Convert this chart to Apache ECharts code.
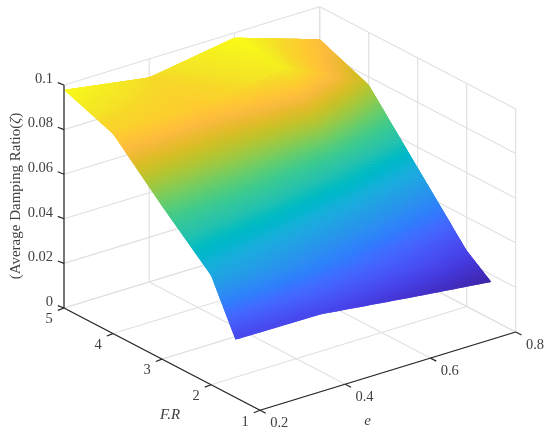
<!DOCTYPE html>
<html>
<head>
<meta charset="utf-8">
<style>html,body{margin:0;padding:0;background:#fff}#c{width:550px;height:434px}</style>
<script src="https://cdn.jsdelivr.net/npm/echarts@6/dist/echarts.min.js"></script>
</head>
<body>
<div id="c"></div>
<script>
// ---- data ----
const eValues = [0.2, 0.4, 0.6, 0.8];
const frValues = [5, 4, 3, 2, 1.5];
const zF5 = [0.0978, 0.0917, 0.0978, 0.0854];
const zF4 = [0.0895, 0.0880, 0.0950, 0.0764];
const zF3 = [0.0686, 0.0660, 0.0600, 0.0506];
const zF2 = [0.0490, 0.0420, 0.0340, 0.0250];
const zF15 = [0.0259, 0.0256, 0.0210, 0.0167];
const zRows = [zF5, zF4, zF3, zF2, zF15];
const eTicks = [0.2, 0.4, 0.6, 0.8];
const frTicks = [1, 2, 3, 4, 5];
const zTicks = [0, 0.02, 0.04, 0.06, 0.08, 0.1];
const zTickLabels = ['0', '0.02', '0.04', '0.06', '0.08', '0.1'];

// parula colour map
const parula = [[.2422,.1504,.6603],[.2504,.1650,.7076],[.2578,.1818,.7511],[.2647,.1978,.7952],[.2706,.2147,.8364],[.2751,.2342,.8710],[.2783,.2559,.8991],[.2803,.2782,.9221],[.2813,.3006,.9414],[.2810,.3228,.9579],[.2795,.3447,.9717],[.2760,.3667,.9829],[.2699,.3892,.9906],[.2602,.4123,.9952],[.2440,.4358,.9988],[.2206,.4603,.9973],[.1963,.4847,.9892],[.1834,.5074,.9798],[.1786,.5289,.9682],[.1764,.5499,.9520],[.1687,.5703,.9359],[.1540,.5902,.9218],[.1460,.6091,.9079],[.1380,.6276,.8973],[.1248,.6459,.8883],[.1113,.6635,.8763],[.0952,.6798,.8598],[.0689,.6948,.8394],[.0297,.7082,.8163],[.0036,.7203,.7917],[.0067,.7312,.7660],[.0433,.7411,.7394],[.0964,.7500,.7120],[.1408,.7584,.6842],[.1717,.7670,.6554],[.1938,.7758,.6251],[.2161,.7843,.5923],[.2470,.7918,.5567],[.2906,.7973,.5188],[.3406,.8008,.4789],[.3909,.8029,.4354],[.4456,.8024,.3909],[.5044,.7993,.3480],[.5616,.7942,.3045],[.6174,.7876,.2612],[.6720,.7793,.2227],[.7242,.7698,.1910],[.7738,.7598,.1646],[.8203,.7498,.1535],[.8634,.7406,.1596],[.9035,.7330,.1774],[.9393,.7288,.2100],[.9728,.7298,.2394],[.9956,.7434,.2371],[.9970,.7659,.2199],[.9952,.7861,.1999],[.9892,.8071,.1818],[.9786,.8303,.1755],[.9676,.8515,.1596],[.9610,.8890,.1537],[.9597,.9135,.1423],[.9628,.9373,.1265],[.9691,.9606,.1064],[.9769,.9839,.0805]];

// ---- view: oblique projection of the 3D box on the page plane ----
const eRange = [0.2, 0.8], frRange = [1, 5], zRange = [0, 0.1];
const view = {ox: 64, oy: 308, ux: 255.7, uy: -78.3, vx: 196, vy: 102.3, wy: -223};
function proj(e, f, z) {
  const u = (e - eRange[0]) / (eRange[1] - eRange[0]);
  const v = (frRange[1] - f) / (frRange[1] - frRange[0]);
  const w = (z - zRange[0]) / (zRange[1] - zRange[0]);
  return [view.ox + view.ux * u + view.vx * v, view.oy + view.uy * u + view.vy * v + view.wy * w];
}
const zAll = zRows.flat();
const cMin = Math.min.apply(null, zAll), cMax = Math.max.apply(null, zAll);
function colorOf(z) {
  const t = Math.max(0, Math.min(1, (z - cMin) / (cMax - cMin))) * (parula.length - 1);
  const i = Math.min(parula.length - 2, Math.floor(t)), f = t - i;
  const c = [0, 1, 2].map(k => Math.round(255 * (parula[i][k] * (1 - f) + parula[i + 1][k] * f)));
  return 'rgb(' + c.join(',') + ')';
}

const GRID = '#e0e0e0', AXIS = '#262626', TXT = '#404040', FONT = 'Liberation Serif';

function renderAll(params, api) {
  const P = (e, f, z) => api.coord(proj(e, f, z));
  const children = [];
  const line = (a, b, stroke, w) => children.push({type: 'line', silent: true,
    shape: {x1: a[0], y1: a[1], x2: b[0], y2: b[1]}, style: {stroke, lineWidth: w}});
  const [e0, e1] = eRange, [f0, f1] = frRange, [z0, z1] = zRange;

  // back walls + floor grid
  zTicks.forEach(z => {
    line(P(e0, f1, z), P(e1, f1, z), GRID, 1.1);
    line(P(e1, f1, z), P(e1, f0, z), GRID, 1.1);
  });
  eTicks.forEach(e => {
    line(P(e, f1, z0), P(e, f1, z1), GRID, 1.1);
    line(P(e, f0, z0), P(e, f1, z0), GRID, 1.1);
  });
  frTicks.forEach(f => {
    line(P(e1, f, z0), P(e1, f, z1), GRID, 1.1);
    line(P(e0, f, z0), P(e1, f, z0), GRID, 1.1);
  });

  // surface, painted back to front with overlapping tiles so no seams show
  const nE = eValues.length - 1, nF = frValues.length - 1, N = 30, OV = 1;
  const ptAt = (S, T) => {
    S = Math.max(0, Math.min(nE, S)); T = Math.max(0, Math.min(nF, T));
    const c = Math.min(nE - 1, Math.floor(S)), r = Math.min(nF - 1, Math.floor(T));
    const s = S - c, t = T - r;
    const e = eValues[c] + (eValues[c + 1] - eValues[c]) * s;
    const f = frValues[r] + (frValues[r + 1] - frValues[r]) * t;
    const z = zRows[r][c] * (1 - s) * (1 - t) + zRows[r][c + 1] * s * (1 - t) +
              zRows[r + 1][c] * (1 - s) * t + zRows[r + 1][c + 1] * s * t;
    return {p: P(e, f, z), z};
  };
  for (let i = 0; i < nF * N; i++) {
    for (let j = nE * N - 1; j >= 0; j--) {
      const sL = j / N, sR = (j + 1 + OV) / N, tT = (i - OV) / N, tB = (i + 1) / N;
      const mid = ptAt((j + 0.5) / N, (i + 0.5) / N);
      children.push({type: 'polygon', silent: true,
        shape: {points: [ptAt(sL, tT).p, ptAt(sR, tT).p, ptAt(sR, tB).p, ptAt(sL, tB).p]},
        style: {fill: colorOf(mid.z)}});
    }
  }

  // axes
  line(P(e0, f1, z0), P(e0, f1, z1), AXIS, 1.2);
  line(P(e0, f1, z0), P(e0, f0, z0), AXIS, 1.2);
  line(P(e0, f0, z0), P(e1, f0, z0), AXIS, 1.2);

  const label = (text, x, y, align) => children.push({type: 'text', silent: true,
    style: {text, x, y, fill: TXT, font: '14.5px "' + FONT + '"', align, verticalAlign: 'middle'}});

  zTicks.forEach((z, i) => {
    const a = P(e0, f1, z);
    line(a, [a[0] - 6.2, a[1] - 2.4], AXIS, 1.2);
    label(zTickLabels[i], a[0] - 11, a[1] - 6, 'right');
  });
  frTicks.forEach(f => {
    const a = P(e0, f, z0);
    line(a, [a[0] - 6.2, a[1] + 2.4], AXIS, 1.2);
    label(String(f), a[0] - 15, a[1] + 11.5, 'center');
  });
  eTicks.forEach(e => {
    const a = P(e, f0, z0);
    line(a, [a[0] + 5.8, a[1] + 3], AXIS, 1.2);
    label(e.toFixed(1), a[0] + 19.3, a[1] + 13, 'center');
  });

  // axis titles
  children.push({type: 'text', silent: true, style: {text: 'F.R', x: 170, y: 415, fill: TXT,
    font: 'italic 15px "' + FONT + '"', align: 'center', verticalAlign: 'middle'}});
  children.push({type: 'text', silent: true, style: {text: 'e', x: 367.5, y: 421, fill: TXT,
    font: 'italic 15px "' + FONT + '"', align: 'center', verticalAlign: 'middle'}});
  children.push({type: 'text', silent: true, x: 16, y: 196, rotation: Math.PI / 2,
    style: {text: '{a|(Average Damping Ratio(}{b|ζ}{a|)}', x: 0, y: 0, align: 'center', verticalAlign: 'middle', fill: TXT,
      rich: {a: {font: '15px "' + FONT + '"', fill: TXT}, b: {font: 'italic 15px "' + FONT + '"', fill: TXT}}}});
  return {type: 'group', children};
}

const chart = echarts.init(document.getElementById('c'), null, {renderer: 'canvas'});
chart.setOption({
  animation: false,
  backgroundColor: '#fff',
  grid: {left: 0, right: 0, top: 0, bottom: 0},
  xAxis: {type: 'value', min: 0, max: 550, show: false},
  yAxis: {type: 'value', min: 0, max: 434, inverse: true, show: false},
  series: [{type: 'custom', coordinateSystem: 'cartesian2d', silent: true, clip: false,
    data: [[0, 0]], renderItem: renderAll}]
});
</script>
</body>
</html>
